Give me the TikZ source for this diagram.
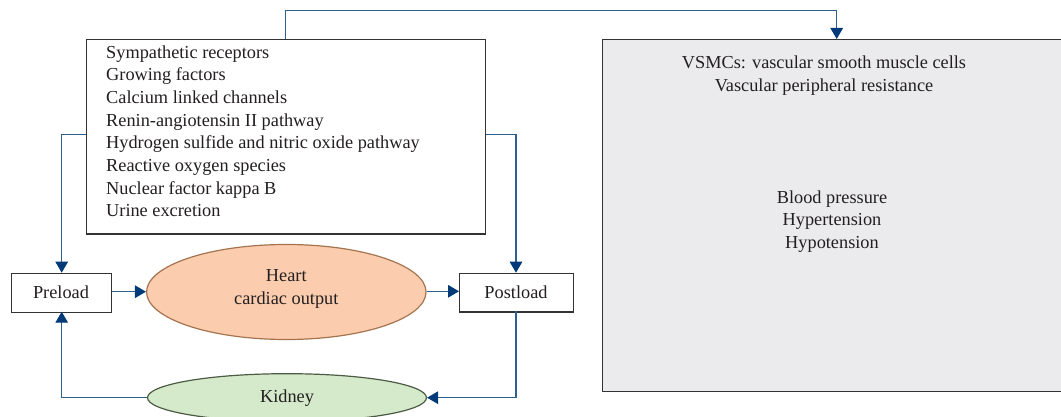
\documentclass[tikz,border=0pt]{standalone}
\usepackage{fontspec}
\setmainfont{Liberation Serif}
\usetikzlibrary{arrows.meta,shapes.geometric}
\definecolor{conn}{HTML}{2F5F8F}
\definecolor{tipc}{HTML}{003A78}
\definecolor{txt}{HTML}{231F20}
\definecolor{heartfill}{HTML}{FBCDAE}
\definecolor{heartline}{HTML}{A5744F}
\definecolor{kidfill}{HTML}{D5EACB}
\definecolor{kidline}{HTML}{4C5B44}
\definecolor{greyfill}{HTML}{EBEBED}
\definecolor{boxline}{HTML}{333333}
\tikzset{
  lbl/.style={font=\fontsize{18.3}{22.7}\selectfont, text=txt, inner sep=0pt},
  boxnode/.style={draw=boxline, line width=1.3pt, fill=white, rectangle, inner sep=0pt},
  conline/.style={draw=conn, line width=1.3pt},
  conarrow/.style={conline, -{Triangle[length=11pt,width=12.5pt,color=tipc]}},
}
\begin{document}
\begin{tikzpicture}[x=1pt,y=-1pt]
\useasboundingbox (0,0) rectangle (1061,417);
\clip (0,0) rectangle (1061,417);
\fill[white] (0,0) rectangle (1061,417);
% big grey box
\node[boxnode, fill=greyfill, minimum width=470pt, minimum height=352pt, anchor=north west] (vsmc) at (602,39) {};
\node[lbl, align=center, anchor=base] (vtxt) at (824,91.7) {VSMCs: vascular smooth muscle cells\\Vascular peripheral resistance};
\node[lbl, align=center, anchor=base] (bptxt) at (832,248.4) {Blood pressure\\Hypertension\\Hypotension};
% factor box
\node[boxnode, minimum width=399.3pt, minimum height=194.3pt, anchor=north west] (fac) at (85.7,39) {};
\node[lbl, align=left, anchor=base west] (factxt) at (106,216.9) {Sympathetic receptors\\Growing factors\\Calcium linked channels\\Renin-angiotensin II pathway\\Hydrogen sulfide and nitric oxide pathway\\Reactive oxygen species\\Nuclear factor kappa B\\Urine excretion};
% preload / postload
\node[boxnode, minimum width=100pt, minimum height=39pt, anchor=north west] (pre) at (11,272.7) {};
\node[lbl] (pretxt) at (61,292) {Preload};
\node[boxnode, minimum width=114pt, minimum height=38.5pt, anchor=north west] (post) at (459,272.7) {};
\node[lbl] (posttxt) at (516,292) {Postload};
% ellipses
\node[ellipse, draw=heartline, line width=1.2pt, fill=heartfill, minimum width=279.5pt, minimum height=95pt, inner sep=0pt] (heart) at (286.3,292) {};
\node[lbl, align=center] (hearttxt) at (286.3,289) {Heart\\cardiac output};
\node[ellipse, draw=kidline, line width=1.2pt, fill=kidfill, minimum width=279pt, minimum height=48pt, inner sep=0pt] (kid) at (287,397.7) {};
\node[lbl] (kidtxt) at (287,397.7) {Kidney};
% connectors
\coordinate (topL) at (285.7,10.3);
\coordinate (topR) at (836.7,10.3);
\draw[conarrow] (285.7,39) -- (topL) -- (topR) -- (topR |- vsmc.north);
\draw[conarrow] (fac.west |- 0,134.3) -- (61.7,134.3) -- (61.7,272.7);
\draw[conarrow] (fac.east |- 0,134.3) -- (516,134.3) -- (516,272.7);
\draw[conarrow] (pre.east |- 0,291.7) -- (heart.west |- 0,291.7);
\draw[conarrow] (heart.east |- 0,291.3) -- (post.west |- 0,291.3);
\draw[conarrow] (516,311.2) -- (516,397.7) -- (kid.east);
\draw[conarrow] (kid.west) -- (61.7,397.7) -- (61.7,311.7);
\end{tikzpicture}
\end{document}
